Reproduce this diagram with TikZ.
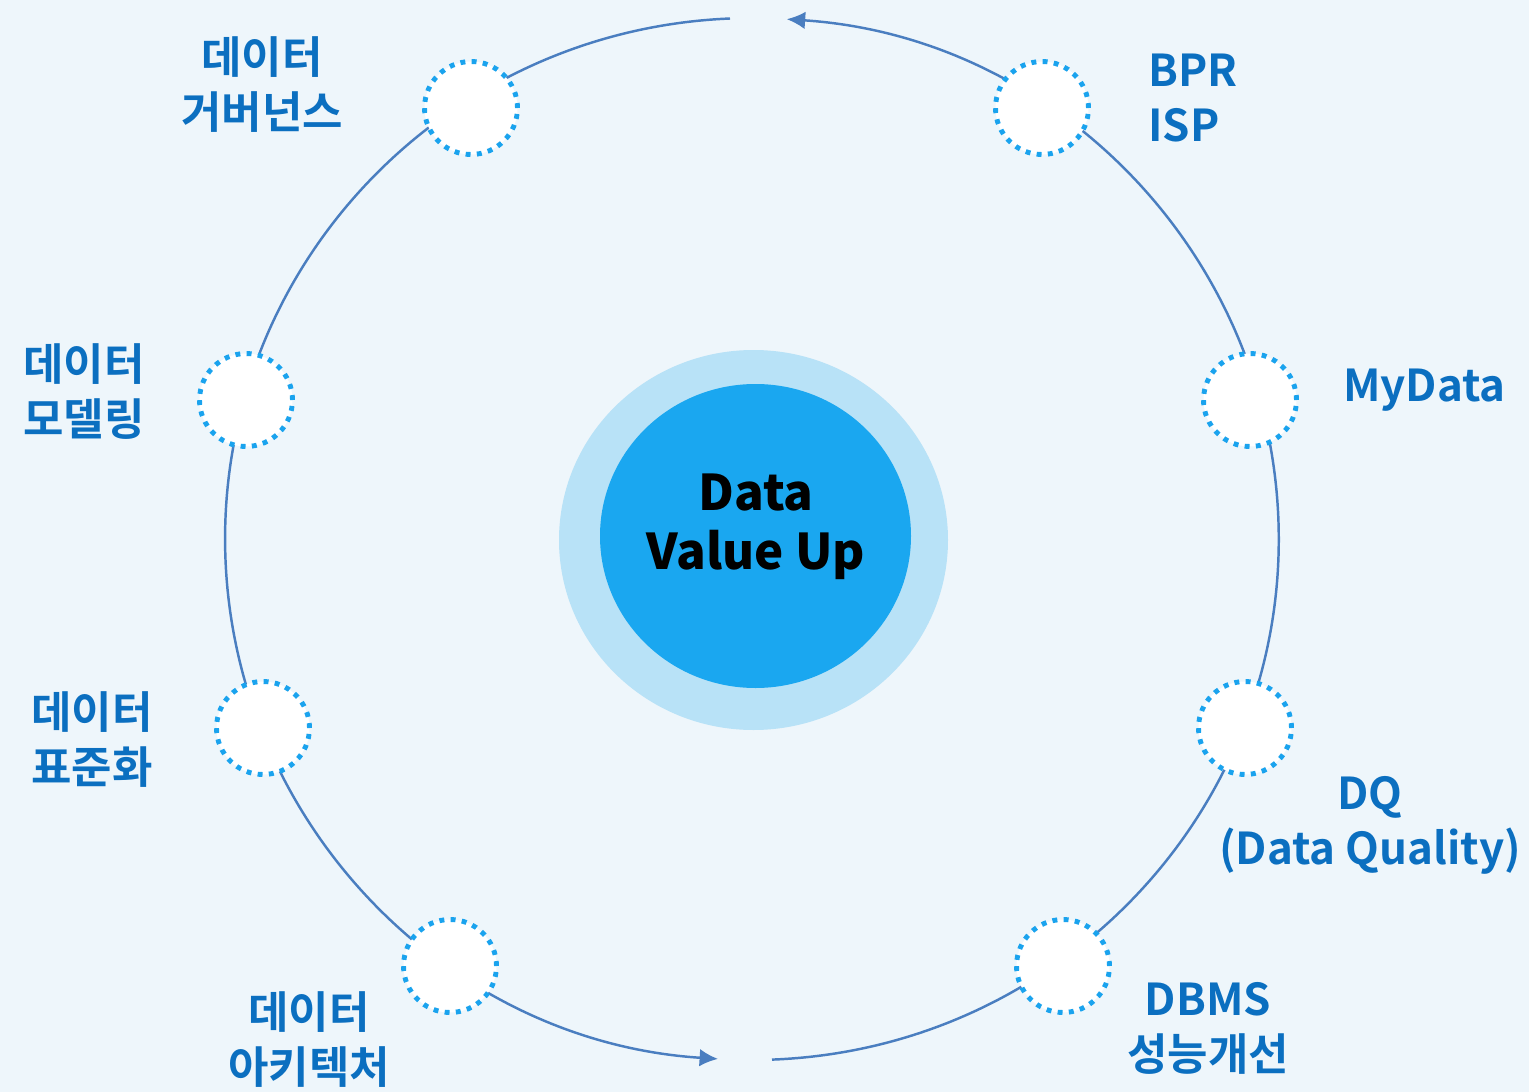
\documentclass[tikz,border=0pt]{standalone}
\usepackage{fontspec}
\setmainfont{Noto Sans CJK KR}[BoldFont={* Bold}]
\newfontfamily\heavyfont{Noto Sans CJK KR Black}
\usetikzlibrary{arrows.meta}

\definecolor{bgblue}{HTML}{EEF6FB}
\definecolor{haloblue}{HTML}{B8E2F7}
\definecolor{coreblue}{HTML}{1AA7F0}
\definecolor{ringblue}{HTML}{4A7EC0}
\definecolor{dotblue}{HTML}{1AA3EE}
\definecolor{textblue}{HTML}{0B6FC0}

\tikzset{
  ring/.style={draw=ringblue, line width=1.4pt},
  stop/.style={circle, fill=white, draw=dotblue, line width=2.8pt,
    dash pattern=on 2.8pt off 3.6pt, minimum size=1.86cm, inner sep=0pt},
  lbl/.style={text=textblue, font=\bfseries\fontsize{25}{31.3}\selectfont, align=center},
}

\begin{document}
\begin{tikzpicture}[x=0.02cm, y=-0.02cm, >={Latex[length=10.5pt,width=10pt]}]
% Background
  \fill[bgblue] (0,0) rectangle (1529,1092);
  \useasboundingbox (0,0) rectangle (1529,1092);

% Centre
% Halo and core disc
  \fill[haloblue] (753.5,540) circle[x radius=194.5, y radius=190];
  \fill[coreblue] (755.5,536) circle[x radius=155.5, y radius=152];
  \node[font=\heavyfont\fontsize{28}{33.6}\selectfont, align=center] (core) at (756,527) {Data\\Value Up};

% Ring
% Left half runs down, right half runs up
  \coordinate (ringTL) at (730,18.5);
  \coordinate (ringBR) at (772,1059.6);
  \draw[ring,->] (ringTL) arc[start angle=267.6, end angle=93.7, x radius=527, y radius=521];
  \draw[ring,->] (ringBR) arc[start angle=87.8, end angle=-86.2, x radius=527, y radius=521];

% Stops on the left
  \node[stop] (gov) at (471,108) {};
  \node[stop] (model) at (246,400) {};
  \node[stop] (std) at (263,728) {};
  \node[stop] (arch) at (450,966) {};

% Stops on the right
  \node[stop] (bpr) at (1042,108) {};
  \node[stop] (mydata) at (1250,400) {};
  \node[stop] (dq) at (1245,728) {};
  \node[stop] (dbms) at (1063,966) {};

% Labels
  \node[lbl] (govtext) at (262,85) {데이터\\거버넌스};
  \node[lbl] (modeltext) at (84,392) {데이터\\모델링};
  \node[lbl] (stdtext) at (92,740) {데이터\\표준화};
  \node[lbl] (archtext) at (309,1040) {데이터\\아키텍처};
  \node[lbl, align=left, anchor=west] (bprtext) at (1142,98) {BPR\\ISP};
  \node[lbl, anchor=west] (mydatatext) at (1337,390) {MyData};
  \node[lbl] (dqtext) at (1370,825) {DQ\\(Data Quality)};
  \node[lbl] (dbmstext) at (1208,1028) {DBMS\\성능개선};
\end{tikzpicture}
\end{document}
